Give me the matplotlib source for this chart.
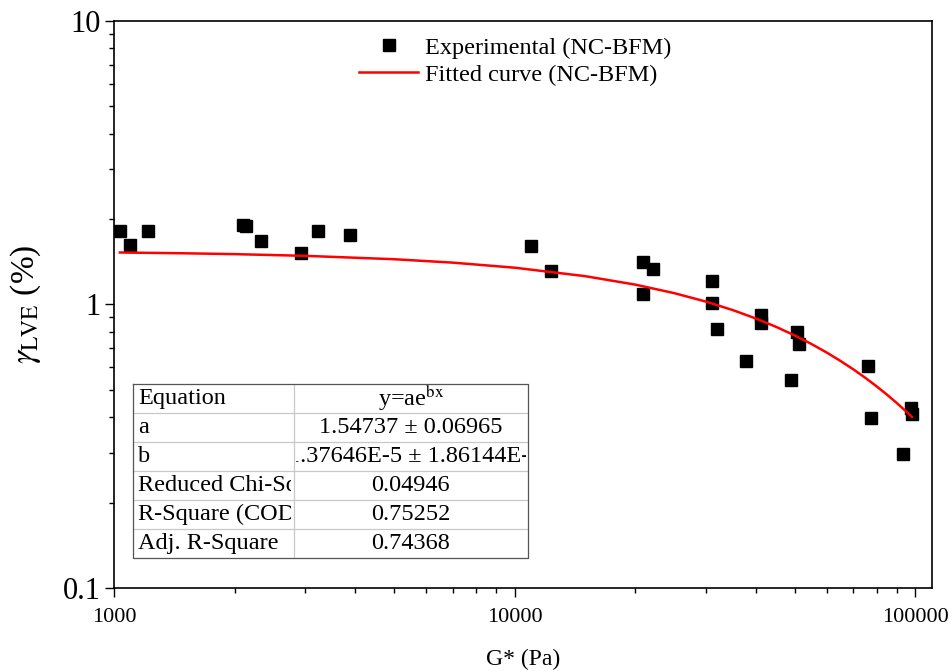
import matplotlib
matplotlib.use('Agg')
import matplotlib.pyplot as plt
from matplotlib.ticker import LogLocator, FixedLocator, FixedFormatter, NullFormatter
from matplotlib.transforms import Bbox, TransformedBbox

plt.rcParams['font.family'] = ['Liberation Serif', 'DejaVu Serif']
plt.rcParams['mathtext.fontset'] = 'stix'

# experimental points (NC-BFM)
g_star = [1035, 1096, 1214, 2097, 2130, 2326, 2926, 3221, 3878,
          10962, 12350, 20940, 22090, 20940, 30990, 30990, 32020,
          41070, 41070, 37830, 50700, 51370, 48980,
          76350, 77680, 97730, 98300, 93180]
gamma_lve = [1.82, 1.62, 1.82, 1.907, 1.892, 1.679, 1.516, 1.82, 1.763,
             1.612, 1.316, 1.416, 1.334, 1.092, 1.213, 1.015, 0.822,
             0.918, 0.859, 0.634, 0.800, 0.724, 0.542,
             0.607, 0.399, 0.431, 0.411, 0.297]

# fitted curve
fit_x = [1035, 1500, 2000, 3000, 5000, 7000, 10000, 15000, 20000, 25000,
         30000, 35000, 40000, 45000, 50000, 55000, 60000, 65000, 70000,
         75000, 80000, 85000, 90000, 95000, 98000]
fit_y = [1.5256, 1.5157, 1.5054, 1.4848, 1.4445, 1.4052, 1.3484, 1.2587,
         1.1751, 1.0969, 1.0239, 0.9558, 0.8923, 0.8329, 0.7775, 0.7258,
         0.6776, 0.6325, 0.5905, 0.5512, 0.5145, 0.4803, 0.4483, 0.4185,
         0.4016]

table_names = ['Equation', 'a', 'b', 'Reduced Chi-Sqr', 'R-Square (COD)', 'Adj. R-Square']
table_values = [r'y=ae$^{\mathrm{bx}}$', '1.54737 \u00b1 0.06965',
                '-1.37646E-5 \u00b1 1.86144E-6', '0.04946', '0.75252', '0.74368']

fig = plt.figure(figsize=(9.52, 6.71), dpi=100)
ax = fig.add_axes([0.1197, 0.1237, 0.979 - 0.1197, 0.9687 - 0.1237])

ax.plot(g_star, gamma_lve, 's', color='black', markersize=8.6,
        label='Experimental (NC-BFM)', zorder=3)
ax.plot(fit_x, fit_y, '-', color='#ff0000', lw=1.8,
        label='Fitted curve (NC-BFM)', zorder=4)

ax.set_xscale('log')
ax.set_yscale('log')
ax.set_xlim(1000, 110000)
ax.set_ylim(0.1, 10)

ax.xaxis.set_major_locator(FixedLocator([1000, 10000, 100000]))
ax.xaxis.set_major_formatter(FixedFormatter(['1000', '10000', '100000']))
ax.xaxis.set_minor_locator(LogLocator(base=10, subs=range(2, 10)))
ax.xaxis.set_minor_formatter(NullFormatter())
ax.yaxis.set_major_locator(FixedLocator([0.1, 1, 10]))
ax.yaxis.set_major_formatter(FixedFormatter(['0.1', '1', '10']))
ax.yaxis.set_minor_locator(LogLocator(base=10, subs=range(2, 10)))
ax.yaxis.set_minor_formatter(NullFormatter())

ax.tick_params(which='major', direction='out', length=6.5, width=1.0, top=False, right=False)
ax.tick_params(which='minor', direction='out', length=3.5, width=1.0, top=False, right=False)
ax.tick_params(axis='x', labelsize=16, pad=8)
ax.tick_params(axis='y', labelsize=22, pad=3)
for s in ax.spines.values():
    s.set_linewidth(1.2)

ax.set_xlabel('G* (Pa)', fontsize=17, labelpad=16)
ax.set_ylabel(r'$\gamma_{\mathrm{LVE}}$ (%)', fontsize=24, labelpad=14)

leg = ax.legend(loc='upper left', bbox_to_anchor=(0.300, 0.972), frameon=False,
                fontsize=17.5, borderpad=0, borderaxespad=0, handlelength=2.4,
                handletextpad=0.3, labelspacing=0.2)

# parameter table
x0, xm, x1 = 0.0232, 0.220, 0.506
ytop, rh = 0.3598, 0.05115
n = len(table_names)
ybot = ytop - n * rh
for i in range(1, n):
    y = ytop - i * rh
    ax.plot([x0, x1], [y, y], color='#c8c8c8', lw=0.9, transform=ax.transAxes, zorder=5)
ax.plot([xm, xm], [ybot, ytop], color='#c8c8c8', lw=0.9, transform=ax.transAxes, zorder=5)
ax.plot([x0, x1, x1, x0, x0], [ytop, ytop, ybot, ybot, ytop], color='#555555', lw=0.9,
        transform=ax.transAxes, zorder=6)
for i, (name, val) in enumerate(zip(table_names, table_values)):
    yc = ytop - (i + 0.5) * rh
    t1 = ax.text(x0 + 0.006, yc, name, transform=ax.transAxes, fontsize=17.5,
                 ha='left', va='center', zorder=7, clip_on=True)
    t1.set_clip_box(TransformedBbox(Bbox([[x0, yc - rh / 2], [xm - 0.003, yc + rh / 2]]), ax.transAxes))
    t2 = ax.text((xm + x1) / 2, yc, val, transform=ax.transAxes, fontsize=17.5,
                 ha='center', va='center', zorder=7, clip_on=True)
    t2.set_clip_box(TransformedBbox(Bbox([[xm + 0.002, yc - rh / 2], [x1 - 0.002, yc + rh / 2]]), ax.transAxes))

fig.savefig('out.png', dpi=100)
